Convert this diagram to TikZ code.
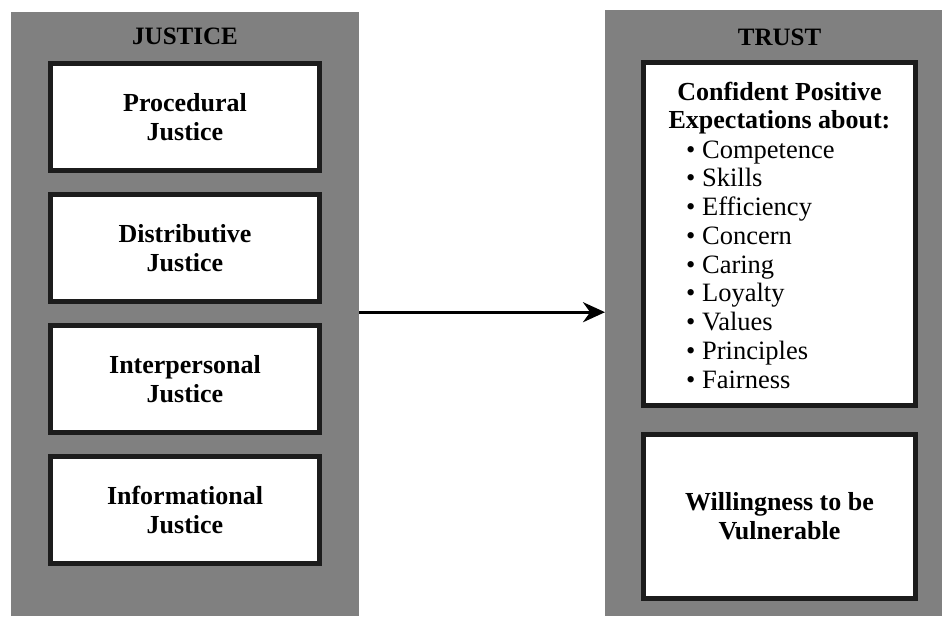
\documentclass[tikz,border=0pt]{standalone}
\usepackage{fontspec}
\setmainfont{Liberation Serif}
\usetikzlibrary{arrows.meta,positioning}
\definecolor{panelgray}{RGB}{128,128,128}
\definecolor{boxline}{RGB}{28,28,28}

\begin{document}
\begin{tikzpicture}[x=1pt,y=-1pt,
  panel/.style={fill=panelgray, inner sep=0pt, anchor=north west},
  title/.style={font=\fontsize{25}{29}\selectfont\bfseries, anchor=base},
  box/.style={draw=boxline, line width=5pt, fill=white, align=center,
    minimum width=269pt, minimum height=107pt,
    font=\fontsize{26}{29}\selectfont\bfseries},
  item/.style={font=\fontsize{26.5}{29}\selectfont, anchor=base west, inner sep=0pt}]
  \useasboundingbox (0,0) rectangle (942,616);
  % background panels
  \node[panel, minimum width=348pt, minimum height=604pt] (justice) at (11,12) {};
  \node[panel, minimum width=337pt, minimum height=606pt] (trust) at (605,10) {};
  \node[title] (jtitle) at (185,44) {JUSTICE};
  \node[title] (ttitle) at (779.5,45) {TRUST};
  % justice dimensions
  \node[box] (proc) at (185,117) {Procedural\\Justice};
  \node[box] (dist) at (185,248) {Distributive\\Justice};
  \node[box] (inter) at (185,379) {Interpersonal\\Justice};
  \node[box] (info) at (185,510) {Informational\\Justice};
  % trust components
  \node[box, minimum width=272pt, minimum height=343pt] (expect) at (779.5,234) {};
  \node[font=\fontsize{26}{28}\selectfont\bfseries, align=center, anchor=north, inner sep=0pt]
    (head) at (779.5,82) {Confident Positive\\Expectations about:};
  \foreach \word [count=\i] in {Competence,Skills,Efficiency,Concern,Caring,Loyalty,Values,Principles,Fairness}
    \node[item] (item-\i) at (686,{158+28.75*(\i-1)}) {\textbullet\ \word};
  \node[box, minimum width=272pt, minimum height=164pt] (vuln) at (779.5,516) {Willingness to be\\Vulnerable};
  \draw[line width=3pt, -{Stealth[length=22pt,width=20pt]}] ([yshift=2pt]justice.east) -- ([yshift=2pt]justice.east -| trust.west);
\end{tikzpicture}
\end{document}
